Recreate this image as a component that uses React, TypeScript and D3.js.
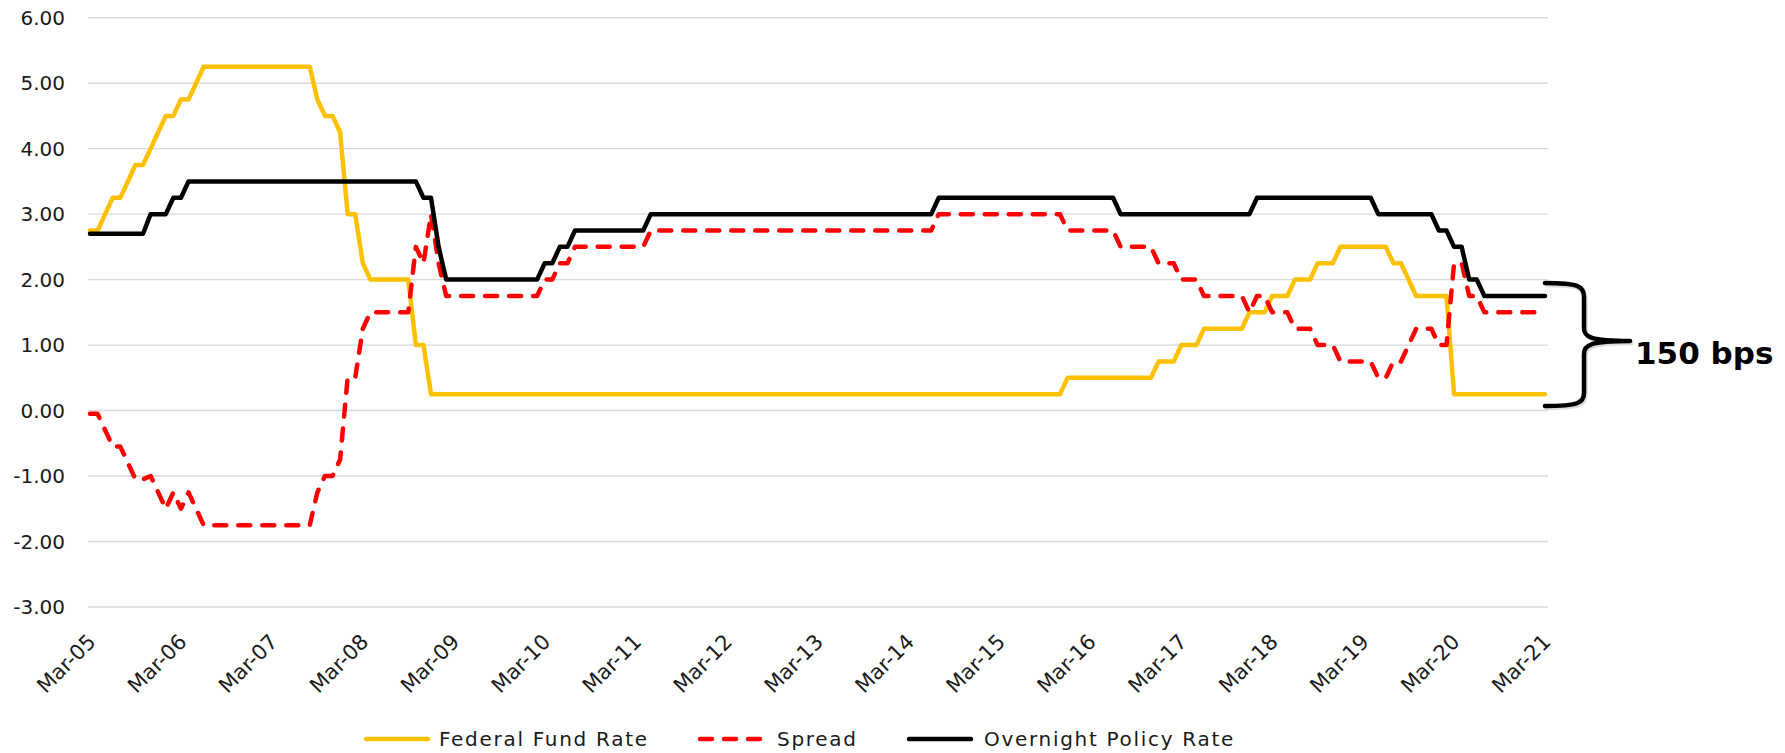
import * as d3 from 'd3';

// monthly observations, Mar-05 .. Mar-21 (one row = Mar..Feb)
const fedFundRate = [
  2.75, 2.75, 3.00, 3.25, 3.25, 3.50, 3.75, 3.75, 4.00, 4.25, 4.50, 4.50,
  4.75, 4.75, 5.00, 5.25, 5.25, 5.25, 5.25, 5.25, 5.25, 5.25, 5.25, 5.25,
  5.25, 5.25, 5.25, 5.25, 5.25, 5.25, 4.75, 4.50, 4.50, 4.25, 3.00, 3.00,
  2.25, 2.00, 2.00, 2.00, 2.00, 2.00, 2.00, 1.00, 1.00, 0.25, 0.25, 0.25,
  0.25, 0.25, 0.25, 0.25, 0.25, 0.25, 0.25, 0.25, 0.25, 0.25, 0.25, 0.25,
  0.25, 0.25, 0.25, 0.25, 0.25, 0.25, 0.25, 0.25, 0.25, 0.25, 0.25, 0.25,
  0.25, 0.25, 0.25, 0.25, 0.25, 0.25, 0.25, 0.25, 0.25, 0.25, 0.25, 0.25,
  0.25, 0.25, 0.25, 0.25, 0.25, 0.25, 0.25, 0.25, 0.25, 0.25, 0.25, 0.25,
  0.25, 0.25, 0.25, 0.25, 0.25, 0.25, 0.25, 0.25, 0.25, 0.25, 0.25, 0.25,
  0.25, 0.25, 0.25, 0.25, 0.25, 0.25, 0.25, 0.25, 0.25, 0.25, 0.25, 0.25,
  0.25, 0.25, 0.25, 0.25, 0.25, 0.25, 0.25, 0.25, 0.25, 0.50, 0.50, 0.50,
  0.50, 0.50, 0.50, 0.50, 0.50, 0.50, 0.50, 0.50, 0.50, 0.75, 0.75, 0.75,
  1.00, 1.00, 1.00, 1.25, 1.25, 1.25, 1.25, 1.25, 1.25, 1.50, 1.50, 1.50,
  1.75, 1.75, 1.75, 2.00, 2.00, 2.00, 2.25, 2.25, 2.25, 2.50, 2.50, 2.50,
  2.50, 2.50, 2.50, 2.50, 2.25, 2.25, 2.00, 1.75, 1.75, 1.75, 1.75, 1.75,
  0.25, 0.25, 0.25, 0.25, 0.25, 0.25, 0.25, 0.25, 0.25, 0.25, 0.25, 0.25,
  0.25,
];

const spread = [
  -0.05, -0.05, -0.30, -0.55, -0.55, -0.80, -1.05, -1.05, -1.00, -1.25, -1.50, -1.25,
  -1.50, -1.25, -1.50, -1.75, -1.75, -1.75, -1.75, -1.75, -1.75, -1.75, -1.75, -1.75,
  -1.75, -1.75, -1.75, -1.75, -1.75, -1.75, -1.25, -1.00, -1.00, -0.75, 0.50, 0.50,
  1.25, 1.50, 1.50, 1.50, 1.50, 1.50, 1.50, 2.50, 2.25, 3.00, 2.25, 1.75,
  1.75, 1.75, 1.75, 1.75, 1.75, 1.75, 1.75, 1.75, 1.75, 1.75, 1.75, 1.75,
  2.00, 2.00, 2.25, 2.25, 2.50, 2.50, 2.50, 2.50, 2.50, 2.50, 2.50, 2.50,
  2.50, 2.50, 2.75, 2.75, 2.75, 2.75, 2.75, 2.75, 2.75, 2.75, 2.75, 2.75,
  2.75, 2.75, 2.75, 2.75, 2.75, 2.75, 2.75, 2.75, 2.75, 2.75, 2.75, 2.75,
  2.75, 2.75, 2.75, 2.75, 2.75, 2.75, 2.75, 2.75, 2.75, 2.75, 2.75, 2.75,
  2.75, 2.75, 2.75, 2.75, 3.00, 3.00, 3.00, 3.00, 3.00, 3.00, 3.00, 3.00,
  3.00, 3.00, 3.00, 3.00, 3.00, 3.00, 3.00, 3.00, 3.00, 2.75, 2.75, 2.75,
  2.75, 2.75, 2.75, 2.75, 2.50, 2.50, 2.50, 2.50, 2.50, 2.25, 2.25, 2.25,
  2.00, 2.00, 2.00, 1.75, 1.75, 1.75, 1.75, 1.75, 1.75, 1.50, 1.75, 1.75,
  1.50, 1.50, 1.50, 1.25, 1.25, 1.25, 1.00, 1.00, 1.00, 0.75, 0.75, 0.75,
  0.75, 0.75, 0.50, 0.50, 0.75, 0.75, 1.00, 1.25, 1.25, 1.25, 1.00, 1.00,
  2.25, 2.25, 1.75, 1.75, 1.50, 1.50, 1.50, 1.50, 1.50, 1.50, 1.50, 1.50,
  1.50,
];

const overnightPolicyRate = [
  2.70, 2.70, 2.70, 2.70, 2.70, 2.70, 2.70, 2.70, 3.00, 3.00, 3.00, 3.25,
  3.25, 3.50, 3.50, 3.50, 3.50, 3.50, 3.50, 3.50, 3.50, 3.50, 3.50, 3.50,
  3.50, 3.50, 3.50, 3.50, 3.50, 3.50, 3.50, 3.50, 3.50, 3.50, 3.50, 3.50,
  3.50, 3.50, 3.50, 3.50, 3.50, 3.50, 3.50, 3.50, 3.25, 3.25, 2.50, 2.00,
  2.00, 2.00, 2.00, 2.00, 2.00, 2.00, 2.00, 2.00, 2.00, 2.00, 2.00, 2.00,
  2.25, 2.25, 2.50, 2.50, 2.75, 2.75, 2.75, 2.75, 2.75, 2.75, 2.75, 2.75,
  2.75, 2.75, 3.00, 3.00, 3.00, 3.00, 3.00, 3.00, 3.00, 3.00, 3.00, 3.00,
  3.00, 3.00, 3.00, 3.00, 3.00, 3.00, 3.00, 3.00, 3.00, 3.00, 3.00, 3.00,
  3.00, 3.00, 3.00, 3.00, 3.00, 3.00, 3.00, 3.00, 3.00, 3.00, 3.00, 3.00,
  3.00, 3.00, 3.00, 3.00, 3.25, 3.25, 3.25, 3.25, 3.25, 3.25, 3.25, 3.25,
  3.25, 3.25, 3.25, 3.25, 3.25, 3.25, 3.25, 3.25, 3.25, 3.25, 3.25, 3.25,
  3.25, 3.25, 3.25, 3.25, 3.00, 3.00, 3.00, 3.00, 3.00, 3.00, 3.00, 3.00,
  3.00, 3.00, 3.00, 3.00, 3.00, 3.00, 3.00, 3.00, 3.00, 3.00, 3.25, 3.25,
  3.25, 3.25, 3.25, 3.25, 3.25, 3.25, 3.25, 3.25, 3.25, 3.25, 3.25, 3.25,
  3.25, 3.25, 3.00, 3.00, 3.00, 3.00, 3.00, 3.00, 3.00, 3.00, 2.75, 2.75,
  2.50, 2.50, 2.00, 2.00, 1.75, 1.75, 1.75, 1.75, 1.75, 1.75, 1.75, 1.75,
  1.75,
];

const months = d3.timeMonth.range(new Date(2005, 2, 1), new Date(2021, 3, 1));
const xTickLabels = [
  'Mar-05', 'Mar-06', 'Mar-07', 'Mar-08', 'Mar-09', 'Mar-10', 'Mar-11', 'Mar-12',
  'Mar-13', 'Mar-14', 'Mar-15', 'Mar-16', 'Mar-17', 'Mar-18', 'Mar-19', 'Mar-20', 'Mar-21',
];
const yTicks = [-3, -2, -1, 0, 1, 2, 3, 4, 5, 6];

const W = 1785;
const H = 753;
const FONT = '"DejaVu Sans", sans-serif';
const YELLOW = '#FFC000';
const RED = '#FF0000';

const App = () => {
  const monthKeys = months.map((d) => d3.timeFormat('%Y-%m')(d));
  const x = d3.scalePoint<string>().domain(monthKeys).range([90, 1545]);
  const y = d3.scaleLinear().domain([-3, 6]).range([607, 17.7]);

  const line = d3.line<number>()
    .x((_, i) => x(monthKeys[i]) as number)
    .y((d) => y(d));

  const series = [
    { name: 'Federal Fund Rate', values: fedFundRate, color: YELLOW, dash: null },
    { name: 'Spread', values: spread, color: RED, dash: '12 12' },
    { name: 'Overnight Policy Rate', values: overnightPolicyRate, color: '#000000', dash: null },
  ];

  // legend layout (sample x start, text x start)
  const legendPos = [
    { lx: 366, tx: 439 },
    { lx: 700, tx: 777 },
    { lx: 909, tx: 984 },
  ];
  const legendY = 739;

  const brace = 'M1545 283 C1578 283,1584 286,1584 297 L1584 328 C1584 337,1590 341,1630 341 M1630 341 C1590 341,1584 345,1584 354 L1584 393 C1584 403,1578 406,1545 406';

  return (
    <svg width={W} height={H} style={{ position: 'absolute', left: 0, top: 0, background: '#fff' }}>
      {/* grid + y labels */}
      {yTicks.map((t) => (
        <g key={t}>
          <line x1={88} x2={1548} y1={y(t)} y2={y(t)} stroke="#D9D9D9" strokeWidth={1.4} />
          <text x={65} y={y(t)} dy="0.36em" textAnchor="end" fontFamily={FONT} fontSize={20} fill="#1a1a1a">
            {t.toFixed(2)}
          </text>
        </g>
      ))}

      {/* x labels */}
      {xTickLabels.map((lab, k) => {
        const px = (x(monthKeys[k * 12]) as number) + 7;
        const py = 643;
        return (
          <text key={lab} x={px} y={py} transform={`rotate(-45 ${px} ${py})`} textAnchor="end"
            fontFamily={FONT} fontSize={21} fill="#1a1a1a">{lab}</text>
        );
      })}

      {/* series */}
      {series.map((s) => (
        <path key={s.name} d={line(s.values) as string} fill="none" stroke={s.color} strokeWidth={4.5}
          strokeLinejoin="round" strokeLinecap="round" strokeDasharray={s.dash ?? undefined} />
      ))}

      {/* brace annotation */}
      <g fill="none" strokeLinecap="round" strokeLinejoin="round">
        <path d={brace} stroke="#9a9a9a" strokeOpacity={0.35} strokeWidth={4.5} transform="translate(1.5 2)" />
        <path d={brace} stroke="#000" strokeWidth={4.5} />
      </g>
      <text x={1635} y={364} fontFamily={FONT} fontWeight="bold" fontSize={31} fill="#000">150 bps</text>

      {/* legend */}
      {series.map((s, i) => (
        <g key={s.name}>
          <line x1={legendPos[i].lx} x2={legendPos[i].lx + 62} y1={legendY} y2={legendY} stroke={s.color}
            strokeWidth={4.5} strokeLinecap="round" strokeDasharray={s.dash ? '12 12' : undefined} />
          <text x={legendPos[i].tx} y={legendY} dy="0.36em" fontFamily={FONT} fontSize={20} letterSpacing={1.7}
            fill="#1a1a1a">{s.name}</text>
        </g>
      ))}
    </svg>
  );
};

export default App;
